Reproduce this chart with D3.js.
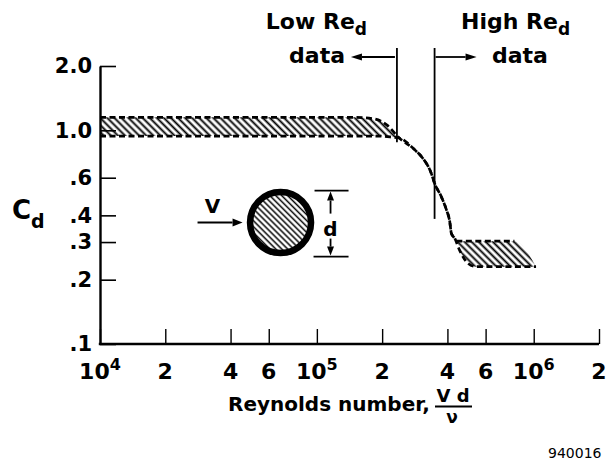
<!DOCTYPE html>
<html>
<head>
<meta charset="utf-8">
<script src="https://cdn.jsdelivr.net/npm/d3@7"></script>
<style>
  html, body { margin: 0; padding: 0; background: #fff; }
  svg { display: block; font-family: "DejaVu Sans", sans-serif; font-weight: bold; }
</style>
</head>
<body>
<svg id="chart" width="610" height="466"></svg>
<script>
// Drag coefficient band of a circular cylinder versus Reynolds number.
// Upper edge of the band (Re, Cd)
const upperRe = [1e4, 1.5e5, 1.85e5, 2.1e5, 2.4e5, 2.83e5, 3.04e5, 3.37e5, 3.49e5, 3.75e5, 3.96e5, 4.10e5, 4.17e5, 4.32e5, 4.46e5, 8.15e5];
const upperCd = [1.15, 1.15, 1.13, 1.06, 0.92, 0.81, 0.752, 0.629, 0.565, 0.489, 0.424, 0.374, 0.33, 0.313, 0.303, 0.303];
// Lower edge of the band (Re, Cd)
const lowerRe = [1e4, 1.9e5, 2.2e5, 2.4e5, 2.83e5, 3.04e5, 3.37e5, 3.49e5, 3.75e5, 3.96e5, 4.10e5, 4.17e5, 4.32e5, 4.55e5, 4.97e5, 5.43e5, 1.025e6];
const lowerCd = [0.94, 0.94, 0.93, 0.92, 0.81, 0.752, 0.629, 0.565, 0.489, 0.424, 0.374, 0.33, 0.313, 0.275, 0.239, 0.23, 0.23];

// Axis ticks
const xTickValues = [1e4, 2e4, 4e4, 6e4, 1e5, 2e5, 4e5, 6e5, 1e6, 2e6];
const xTickLabels = ["10^4", "2", "4", "6", "10^5", "2", "4", "6", "10^6", "2"];
const yTickValues = [2.0, 1.0, 0.6, 0.4, 0.3, 0.2, 0.1];
const yTickLabels = ["2.0", "1.0", ".6", ".4", ".3", ".2", ".1"];

// Boundaries between the low and high Reynolds number data sets
const splitRe = [2.34e5, 3.49e5];
const splitBottomCd = [0.88, 0.385];

// Placement of the cylinder sketch
const sketchRe = 6.8e4;
const sketchCd = 0.37;

const svg = d3.select("#chart");
const x = d3.scaleLog().domain([1e4, 2e6]).range([100, 599]);
const y = d3.scaleLog().domain([0.1, 2.0]).range([344, 66]);

const defs = svg.append("defs");
function hatch(id, gap, width) {
  defs.append("pattern")
    .attr("id", id)
    .attr("patternUnits", "userSpaceOnUse")
    .attr("width", gap).attr("height", gap)
    .attr("patternTransform", "rotate(-45)")
    .append("line")
    .attr("x1", gap / 2).attr("y1", -1).attr("x2", gap / 2).attr("y2", gap + 1)
    .attr("stroke", "#000").attr("stroke-width", width);
}
hatch("bandHatch", 5, 1.9);
hatch("cylHatch", 4.2, 1.5);

const upper = upperRe.map((r, i) => [r, upperCd[i]]);
const lower = lowerRe.map((r, i) => [r, lowerCd[i]]);
// Close the band on its right side along a hatch-parallel edge
const upperClosed = upper.concat([lower[lower.length - 1]]);

// Band fill: area under the upper edge, clipped to the region above the lower edge
defs.append("clipPath").attr("id", "aboveLower")
  .append("path")
  .attr("d", d3.area().x(d => x(d[0])).y0(0).y1(d => y(d[1])).curve(d3.curveMonotoneX)(lower));

svg.append("path")
  .attr("clip-path", "url(#aboveLower)")
  .attr("d", d3.area().x(d => x(d[0])).y0(466).y1(d => y(d[1])).curve(d3.curveMonotoneX)(upperClosed))
  .attr("fill", "url(#bandHatch)");

const edge = d3.line().x(d => x(d[0])).y(d => y(d[1])).curve(d3.curveMonotoneX);
[upper, lower].forEach(pts => {
  svg.append("path")
    .attr("d", edge(pts))
    .attr("fill", "none")
    .attr("stroke", "#000")
    .attr("stroke-width", 2.7)
    .attr("stroke-dasharray", "6,3.5");
});

// Axes
const xAxis = d3.axisBottom(x)
  .tickValues(xTickValues)
  .tickSizeInner(-15).tickSizeOuter(0)
  .tickFormat("");
const gx = svg.append("g").attr("transform", `translate(0,${y(0.1)})`).call(xAxis);
gx.select(".domain").attr("stroke-width", 2.4).attr("d", `M${x(1e4) - 1.2},0H${x(2e6)}`);
gx.selectAll(".tick line").attr("stroke-width", 1.4);

const yAxis = d3.axisLeft(y)
  .tickValues(yTickValues)
  .tickSizeInner(-16).tickSizeOuter(0)
  .tickPadding(8)
  .tickFormat((d, i) => yTickLabels[i]);
const gy = svg.append("g").attr("transform", `translate(${x(1e4)},0)`).call(yAxis);
gy.select(".domain").attr("stroke-width", 2.4);
gy.selectAll(".tick line").attr("stroke-width", 1.6);
gy.selectAll(".tick text")
  .attr("font-family", "DejaVu Sans").attr("font-weight", "bold")
  .attr("font-size", 21).attr("fill", "#000");

// x tick labels with superscript powers of ten
svg.append("g").selectAll("text")
  .data(xTickValues)
  .join("text")
  .attr("x", d => x(d))
  .attr("y", 379)
  .attr("text-anchor", "middle")
  .attr("font-size", 22)
  .each(function (d, i) {
    const parts = xTickLabels[i].split("^");
    const t = d3.select(this);
    t.append("tspan").text(parts[0]);
    if (parts[1]) {
      t.append("tspan").attr("dy", -9).attr("font-size", 16).text(parts[1]);
    }
  });

// Low / high Reynolds number boundaries
splitRe.forEach((r, i) => {
  svg.append("line")
    .attr("x1", x(r)).attr("x2", x(r))
    .attr("y1", 48).attr("y2", y(splitBottomCd[i]))
    .attr("stroke", "#000").attr("stroke-width", 1.8);
});

function arrow(x1, y1, x2, y2, head, halfW, sw) {
  const dx = x2 - x1, dy = y2 - y1, len = Math.hypot(dx, dy);
  const ux = dx / len, uy = dy / len;
  const bx = x2 - ux * head, by = y2 - uy * head;
  svg.append("line").attr("x1", x1).attr("y1", y1).attr("x2", bx).attr("y2", by)
    .attr("stroke", "#000").attr("stroke-width", sw);
  svg.append("path")
    .attr("d", `M${x2},${y2}L${bx - uy * halfW},${by + ux * halfW}L${bx + uy * halfW},${by - ux * halfW}Z`)
    .attr("fill", "#000");
}

const xl = x(splitRe[0]), xh = x(splitRe[1]);
arrow(xl - 2, 57, xl - 46, 57, 11, 3.6, 1.8);
arrow(xh + 1, 57, xh + 42, 57, 11, 3.6, 1.8);

const lowLbl = svg.append("text").attr("x", 367).attr("y", 29).attr("text-anchor", "end").attr("font-size", 22);
lowLbl.append("tspan").text("Low Re");
lowLbl.append("tspan").attr("dy", 6).attr("font-size", 17).text("d");
svg.append("text").attr("x", 345).attr("y", 63).attr("text-anchor", "end").attr("font-size", 22).text("data");

const highLbl = svg.append("text").attr("x", 461).attr("y", 29).attr("font-size", 22);
highLbl.append("tspan").text("High Re");
highLbl.append("tspan").attr("dy", 6).attr("font-size", 17).text("d");
svg.append("text").attr("x", 492).attr("y", 63).attr("font-size", 22).text("data");

// Cylinder sketch
const cx = x(sketchRe), cy = y(sketchCd);
svg.append("circle").attr("cx", cx).attr("cy", cy).attr("r", 30.5)
  .attr("fill", "url(#cylHatch)").attr("stroke", "#000").attr("stroke-width", 6.5);
arrow(cx - 83, cy, cx - 38, cy, 10, 4, 2);
svg.append("text").attr("x", cx - 68).attr("y", cy - 10).attr("text-anchor", "middle").attr("font-size", 20).text("V");
// diameter dimension
svg.append("line").attr("x1", cx + 34).attr("x2", cx + 68).attr("y1", cy - 32).attr("y2", cy - 32).attr("stroke", "#000").attr("stroke-width", 1.8);
svg.append("line").attr("x1", cx + 33).attr("x2", cx + 68).attr("y1", cy + 34).attr("y2", cy + 34).attr("stroke", "#000").attr("stroke-width", 1.8);
arrow(cx + 50, cy - 9, cx + 50, cy - 31, 9, 3.5, 1.8);
arrow(cx + 50, cy + 16, cx + 50, cy + 33, 9, 3.5, 1.8);
svg.append("text").attr("x", cx + 50).attr("y", cy + 13).attr("text-anchor", "middle").attr("font-size", 20).text("d");

// Axis titles
const cdLbl = svg.append("text").attr("x", 12).attr("y", 219).attr("font-size", 26);
cdLbl.append("tspan").text("C");
cdLbl.append("tspan").attr("dy", 9).attr("font-size", 19).text("d");

svg.append("text").attr("x", 228).attr("y", 411).attr("font-size", 20).text("Reynolds number,");
svg.append("text").attr("x", 453).attr("y", 402).attr("text-anchor", "middle").attr("font-size", 18).text("V d");
svg.append("line").attr("x1", 435).attr("x2", 472).attr("y1", 406.5).attr("y2", 406.5).attr("stroke", "#000").attr("stroke-width", 2.2);
svg.append("text").attr("x", 452).attr("y", 423).attr("text-anchor", "middle").attr("font-size", 17).text("ν");

svg.append("text").attr("x", 548).attr("y", 458).attr("font-size", 14).attr("font-weight", "normal").text("940016");
</script>
</body>
</html>
